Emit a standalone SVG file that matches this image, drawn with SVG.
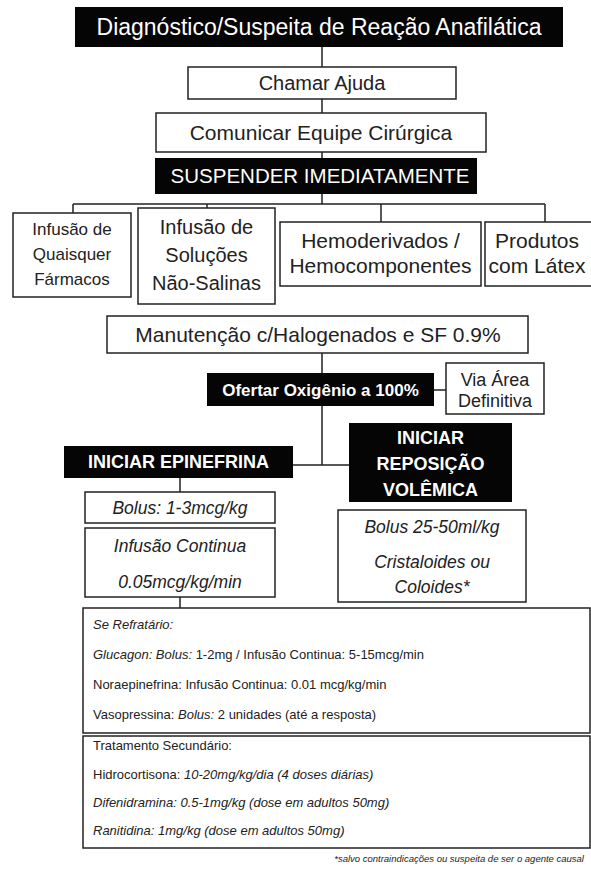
<svg xmlns="http://www.w3.org/2000/svg" width="591" height="871" viewBox="0 0 591 871">
<style>
text{font-family:"Liberation Sans",Arial,sans-serif;fill:#222}
.bk{fill:#050505}
.wb{fill:#fff;stroke:#222;stroke-width:1.5}
.wt{fill:#fff}
.c{text-anchor:middle}
.b{font-weight:bold}
.i{font-style:italic}
.ln{stroke:#222;stroke-width:1.5;fill:none}
</style>
<rect width="591" height="871" fill="#fff"/>
<g id="connectors" class="ln">
<path d="M322 47V67M322 99V113M322 152V158M322 194V204"/>
<path d="M73 204H545M73 204V213M207 204V208M381 204V222M545 204V222"/>
<path d="M322 353V465M434 390H446M293 465H349"/>
<path d="M180 478V492M180 597V608"/>
</g>
<g id="n-title"><rect class="bk" x="75" y="7" width="488" height="40"/><text class="wt c" x="319" y="35" font-size="23">Diagnóstico/Suspeita de Reação Anafilática</text></g>
<g id="n-chamar"><rect class="wb" x="188" y="67" width="268" height="32"/><text class="c" x="322" y="90" font-size="20">Chamar Ajuda</text></g>
<g id="n-comunicar"><rect class="wb" x="156" y="113" width="330" height="39"/><text class="c" x="321" y="140" font-size="21">Comunicar Equipe Cirúrgica</text></g>
<g id="n-suspender"><rect class="bk" x="155" y="158" width="322" height="36"/><text class="wt c" x="320" y="183" font-size="20.5">SUSPENDER IMEDIATAMENTE</text></g>
<g id="n-farmacos"><rect class="wb" x="13" y="213" width="118" height="84"/><text class="c" x="72" y="235" font-size="17">Infusão de</text><text class="c" x="72" y="260" font-size="17">Quaisquer</text><text class="c" x="72" y="285" font-size="17">Fármacos</text></g>
<g id="n-solucoes"><rect class="wb" x="138" y="208" width="137" height="96"/><text class="c" x="206.5" y="234" font-size="20">Infusão de</text><text class="c" x="206.5" y="262" font-size="20">Soluções</text><text class="c" x="206.5" y="290" font-size="20">Não-Salinas</text></g>
<g id="n-hemo"><rect class="wb" x="280" y="222" width="201" height="64"/><text class="c" x="380.5" y="248" font-size="21">Hemoderivados /</text><text class="c" x="380.5" y="273" font-size="21">Hemocomponentes</text></g>
<g id="n-latex"><rect class="wb" x="485" y="222" width="120" height="64"/><text class="c" x="537" y="248" font-size="21">Produtos</text><text class="c" x="537" y="273" font-size="21">com Látex</text></g>
<g id="n-manutencao"><rect class="wb" x="107" y="316" width="421" height="37"/><text class="c" x="318" y="342" font-size="21">Manutenção c/Halogenados e SF 0.9%</text></g>
<g id="n-oxigenio"><rect class="bk" x="207" y="373" width="227" height="33"/><text class="wt c b" x="320.5" y="396" font-size="17">Ofertar Oxigênio a 100%</text></g>
<g id="n-via"><rect class="wb" x="446" y="363" width="98" height="51"/><text class="c" x="495" y="386" font-size="18">Via Área</text><text class="c" x="495" y="407" font-size="18">Definitiva</text></g>
<g id="n-epinefrina"><rect class="bk" x="64" y="446" width="229" height="32"/><text class="wt c b" x="178.5" y="468" font-size="18">INICIAR EPINEFRINA</text></g>
<g id="n-reposicao"><rect class="bk" x="349" y="423" width="163" height="79"/><text class="wt c b" x="430.5" y="444" font-size="18">INICIAR</text><text class="wt c b" x="430.5" y="470" font-size="18">REPOSIÇÃO</text><text class="wt c b" x="430.5" y="496" font-size="18">VOLÊMICA</text></g>
<g id="n-bolus1"><rect class="wb" x="85" y="492" width="190" height="31"/><text class="c i" x="180" y="514" font-size="17.5">Bolus: 1-3mcg/kg</text></g>
<g id="n-infusao"><rect class="wb" x="85" y="528" width="190" height="69"/><text class="c i" x="180" y="552" font-size="17.5">Infusão Continua</text><text class="c i" x="180" y="588" font-size="17.5">0.05mcg/kg/min</text></g>
<g id="n-bolus2"><rect class="wb" x="338" y="510" width="188" height="92"/><text class="c i" x="432" y="533" font-size="17.5">Bolus 25-50ml/kg</text><text class="c i" x="432" y="568" font-size="17.5">Cristaloides ou</text><text class="c i" x="432" y="593" font-size="17.5">Coloides*</text></g>
<g id="n-refratario" font-size="13"><rect class="wb" x="83" y="608" width="507" height="125"/>
<text class="i" x="93" y="629">Se Refratário:</text>
<text x="93" y="659"><tspan class="i">Glucagon: Bolus:</tspan> 1-2mg / Infusão Continua: 5-15mcg/min</text>
<text x="93" y="689">Noraepinefrina: Infusão Continua: 0.01 mcg/kg/min</text>
<text x="93" y="719">Vasopressina: <tspan class="i">Bolus:</tspan> 2 unidades (até a resposta)</text></g>
<g id="n-secundario" font-size="13"><rect class="wb" x="83" y="736" width="507" height="112"/>
<text x="93" y="750">Tratamento Secundário:</text>
<text x="93" y="779">Hidrocortisona: <tspan class="i">10-20mg/kg/dia (4 doses diárias)</tspan></text>
<text class="i" x="93" y="807">Difenidramina: 0.5-1mg/kg (dose em adultos 50mg)</text>
<text class="i" x="93" y="835">Ranitidina: 1mg/kg (dose em adultos 50mg)</text></g>
<text class="i" x="584" y="862" font-size="9.5" text-anchor="end">*salvo contraindicações ou suspeita de ser o agente causal</text>
</svg>
